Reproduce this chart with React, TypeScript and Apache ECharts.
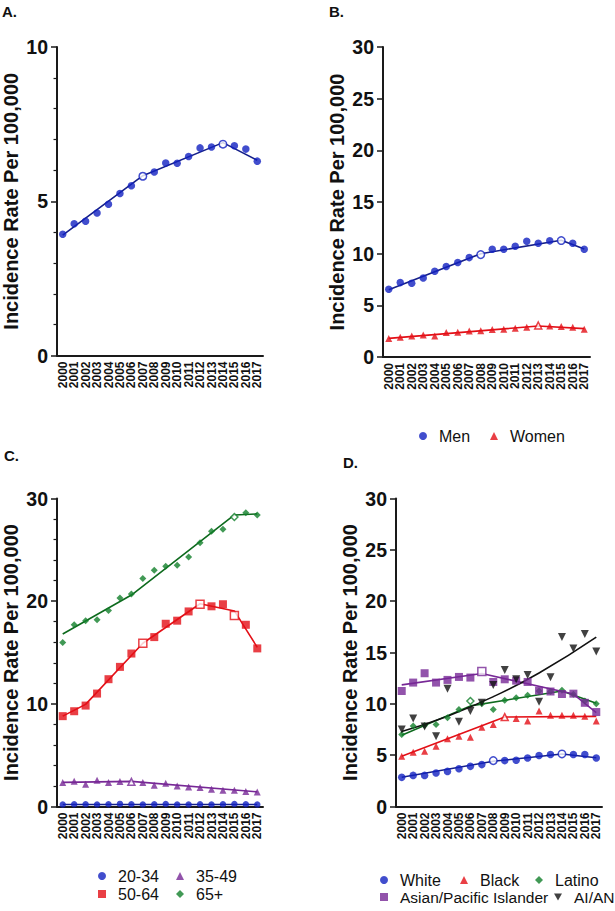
import React, { useEffect, useRef } from 'react';
import * as echarts from 'echarts';

const years = ['2000', '2001', '2002', '2003', '2004', '2005', '2006', '2007', '2008', '2009', '2010', '2011', '2012', '2013', '2014', '2015', '2016', '2017'];

// Panel A – overall
const aOverall = [3.93, 4.27, 4.35, 4.62, 4.9, 5.25, 5.5, 5.81, 5.95, 6.24, 6.23, 6.45, 6.73, 6.76, 6.85, 6.8, 6.69, 6.3];
const aOverallFit = [3.9, null, null, null, null, null, null, 5.83, null, null, null, null, null, null, 6.9, null, null, 6.33];
const aOverallOpen = ['2007', '2014'];

// Panel B – sex
const bMen = [6.56, 7.2, 7.14, 7.65, 8.3, 8.75, 9.14, 9.62, 9.91, 10.43, 10.43, 10.72, 11.2, 11.0, 11.24, 11.27, 11.0, 10.43];
const bMenFit = [6.5, null, null, null, null, null, null, null, 10.0, null, null, null, null, null, null, 11.3, null, 10.45];
const bMenOpen = ['2008', '2015'];
const bWomen = [1.8, 1.91, 2.03, 2.13, 2.03, 2.36, 2.39, 2.52, 2.55, 2.65, 2.68, 2.78, 2.88, 3.05, 3.0, 2.94, 2.88, 2.68];
const bWomenFit = [1.8, null, null, null, null, null, null, null, null, null, null, null, null, 3.0, null, null, null, 2.75];
const bWomenOpen = ['2013'];

// Panel C – age
const c2034 = [0.2, 0.22, 0.22, 0.2, 0.22, 0.25, 0.22, 0.2, 0.22, 0.24, 0.2, 0.2, 0.22, 0.2, 0.22, 0.24, 0.22, 0.2];
const c2034Fit = [0.2, null, null, null, null, null, null, null, null, null, null, null, null, null, null, null, null, 0.2];
const c3549 = [2.33, 2.46, 2.17, 2.55, 2.33, 2.43, 2.4, 2.33, 2.07, 2.27, 2.0, 1.9, 1.84, 1.68, 1.58, 1.58, 1.45, 1.42];
const c3549Fit = [2.35, null, null, null, null, null, 2.45, null, null, null, null, null, null, null, null, null, null, 1.42];
const c3549Open = ['2006'];
const c5064 = [8.8, 9.28, 9.83, 11.0, 12.4, 13.6, 14.9, 15.9, 16.5, 17.8, 18.1, 19.0, 19.7, 19.5, 19.7, 18.6, 17.7, 15.4];
const c5064Fit = [8.8, null, 9.95, null, null, null, null, 15.9, null, null, null, null, 19.75, null, null, 19.05, null, 15.5];
const c5064Open = ['2007', '2012', '2015'];
const c65 = [15.98, 17.7, 18.1, 18.2, 19.1, 20.3, 20.7, 22.2, 23.0, 23.4, 23.5, 24.3, 25.7, 26.8, 27.0, 28.2, 28.6, 28.4];
const c65Fit = [16.8, null, null, null, null, null, 20.6, null, null, null, null, null, null, null, null, 28.4, null, 28.5];
const c65Open = ['2015'];

// Panel D – race/ethnicity
const dWhite = [2.84, 3.03, 3.03, 3.26, 3.42, 3.68, 3.91, 4.08, 4.47, 4.47, 4.5, 4.73, 4.96, 5.06, 5.12, 5.06, 5.06, 4.73];
const dWhiteFit = [2.85, null, null, null, null, null, null, null, 4.4, null, null, null, null, null, 5.12, null, null, 4.75];
const dWhiteOpen = ['2008', '2014'];
const dBlack = [4.89, 5.28, 5.38, 5.87, 6.59, 6.85, 6.75, 7.73, 7.99, 8.71, 8.58, 8.32, 9.3, 8.9, 8.9, 8.9, 8.8, 8.32];
const dBlackFit = [4.9, null, null, null, null, null, null, null, null, 8.72, null, null, null, null, null, null, null, 8.78];
const dBlackOpen = ['2009'];
const dLatino = [7.01, 7.83, 7.9, 7.99, 8.64, 9.46, 10.27, 10.0, 9.46, 10.34, 10.6, 10.83, 11.25, 11.2, 11.32, 10.93, 10.27, 10.0];
const dLatinoFit = [6.95, null, null, null, null, null, 9.8, null, null, null, null, null, null, null, 11.25, null, null, 10.05];
const dLatinoOpen = ['2006'];
const dAsian = [11.25, 12.07, 12.98, 12.07, 12.33, 12.62, 12.56, 13.14, 12.13, 12.39, 12.26, 12.13, 11.28, 11.2, 10.96, 10.99, 10.1, 9.2];
const dAsianFit = [11.85, null, null, null, null, null, null, 12.95, null, null, null, null, null, null, null, 10.95, null, 9.15];
const dAsianOpen = ['2007'];
const dAian = [7.5, 8.58, 7.8, 6.85, 11.48, 8.25, 9.3, 10.1, 11.84, 13.3, 12.4, 12.8, 10.2, 12.6, 16.5, 15.4, 16.8, 15.1];
const dAianFit = [7.3, null, null, null, 8.8, null, null, null, 10.7, null, null, null, 13.0, null, null, null, null, 16.5];
const dAianOpen: string[] = [];

const BLUE = '#1220c0';
const BLUE_LINE = '#16208a';
const RED = '#e30f16';
const GREEN = '#12802a';
const GREEN_LINE = '#0d6a1d';
const PURPLE = '#772896';
const BLACK = '#111111';
const INV_TRI = 'path://M0,0L10,0L5,9Z';
const FONT = 'Liberation Sans, Arial, Helvetica, sans-serif';

const grids = [
  { left: 57, top: 47, width: 206, height: 308.5 },
  { left: 383, top: 47, width: 207, height: 310 },
  { left: 57, top: 498.5, width: 206, height: 308 },
  { left: 396, top: 498.5, width: 206, height: 308 },
];

function mkX(gridIndex: number) {
  return {
    type: 'category',
    gridIndex,
    data: years,
    boundaryGap: true,
    axisLine: { lineStyle: { color: '#1a1a1a', width: 2 } },
    axisTick: { alignWithLabel: true, length: 5, lineStyle: { color: '#1a1a1a', width: 1.5 } },
    axisLabel: { rotate: 90, interval: 0, fontSize: 12, fontWeight: 'bold', color: '#111', margin: 6, fontFamily: FONT },
    splitLine: { show: false },
  };
}

function mkY(gridIndex: number, max: number, interval: number, minor: boolean) {
  return {
    type: 'value',
    gridIndex,
    min: 0,
    max,
    interval,
    name: 'Incidence Rate Per 100,000',
    nameLocation: 'middle',
    nameGap: 36,
    nameTextStyle: { fontSize: 20, fontWeight: 'bold', color: '#111', fontFamily: FONT },
    axisLine: { show: true, lineStyle: { color: '#1a1a1a', width: 2 } },
    axisTick: { show: true, length: 6, lineStyle: { color: '#1a1a1a', width: 1.5 } },
    minorTick: { show: minor, splitNumber: 5, length: 3.5, lineStyle: { color: '#1a1a1a', width: 1.2 } },
    axisLabel: { fontSize: 19.5, fontWeight: 'bold', color: '#111', margin: 9, fontFamily: FONT },
    splitLine: { show: false },
    minorSplitLine: { show: false },
  };
}

function pts(name: string, vals: number[], open: string[], color: string, symbol: string, size: number, idx: number) {
  return {
    name,
    type: 'scatter',
    xAxisIndex: idx,
    yAxisIndex: idx,
    symbol,
    symbolSize: size,
    z: 4,
    itemStyle: { color },
    data: vals.map((v, i) =>
      open.includes(years[i])
        ? { value: v, itemStyle: { color: '#ffffff', borderColor: color, borderWidth: 1.5 } }
        : v
    ),
  };
}

function fit(name: string, vals: (number | null)[], color: string, idx: number, smooth = false) {
  return {
    name: name + ' fit',
    type: 'line',
    xAxisIndex: idx,
    yAxisIndex: idx,
    data: vals,
    connectNulls: true,
    smooth,
    symbol: 'none',
    z: 2,
    lineStyle: { color, width: 1.6 },
    itemStyle: { color },
  };
}

function leg(name: string, icon: string, left: number, cy: number, fontSize = 16) {
  return {
    data: [{ name, icon }],
    left,
    top: cy - 9,
    itemWidth: 8,
    itemHeight: 8,
    padding: 0,
    selectedMode: false,
    textStyle: { fontSize, color: '#111', fontFamily: FONT, padding: [0, 0, 0, 7] },
  };
}

function panelLabel(text: string, x: number, y: number) {
  return {
    type: 'text',
    left: x,
    top: y,
    style: { text, fontSize: 15, fontWeight: 'bold', fill: '#111', fontFamily: FONT },
  };
}

export default function App() {
  const ref = useRef<HTMLDivElement>(null);
  useEffect(() => {
    if (!ref.current) return;
    const chart = echarts.init(ref.current, null, { renderer: 'svg' });
    chart.setOption({
      animation: false,
      backgroundColor: '#ffffff',
      grid: grids,
      xAxis: [mkX(0), mkX(1), mkX(2), mkX(3)],
      yAxis: [mkY(0, 10, 5, true), mkY(1, 30, 5, false), mkY(2, 30, 10, true), mkY(3, 30, 5, false)],
      legend: [
        leg('Men', 'circle', 419, 437),
        leg('Women', 'triangle', 490, 437),
        leg('20-34', 'circle', 98, 877),
        leg('35-49', 'triangle', 176, 877),
        leg('50-64', 'rect', 98, 895),
        leg('65+', 'diamond', 176, 895),
        leg('White', 'circle', 380, 881),
        leg('Black', 'triangle', 460, 881),
        leg('Latino', 'diamond', 535, 881),
        leg('Asian/Pacific Islander', 'rect', 380, 898, 15.5),
        leg('AI/AN', INV_TRI, 554, 898, 15.5),
      ],
      graphic: [
        panelLabel('A.', 2, 4),
        panelLabel('B.', 329, 4),
        panelLabel('C.', 4, 448),
        panelLabel('D.', 343, 455),
      ],
      series: [
        fit('Overall', aOverallFit, BLUE_LINE, 0),
        pts('Overall', aOverall, aOverallOpen, BLUE, 'circle', 7.5, 0),

        fit('Men', bMenFit, BLUE_LINE, 1),
        fit('Women', bWomenFit, RED, 1),
        pts('Men', bMen, bMenOpen, BLUE, 'circle', 7.5, 1),
        pts('Women', bWomen, bWomenOpen, RED, 'triangle', 7, 1),

        fit('20-34', c2034Fit, BLUE_LINE, 2),
        fit('35-49', c3549Fit, PURPLE, 2),
        fit('50-64', c5064Fit, RED, 2),
        fit('65+', c65Fit, GREEN_LINE, 2),
        pts('20-34', c2034, [], BLUE, 'circle', 6.5, 2),
        pts('35-49', c3549, c3549Open, PURPLE, 'triangle', 7, 2),
        pts('50-64', c5064, c5064Open, RED, 'rect', 8, 2),
        pts('65+', c65, c65Open, GREEN, 'diamond', 7, 2),

        fit('White', dWhiteFit, BLUE_LINE, 3),
        fit('Black', dBlackFit, RED, 3),
        fit('Latino', dLatinoFit, GREEN_LINE, 3),
        fit('Asian/Pacific Islander', dAsianFit, PURPLE, 3),
        fit('AI/AN', dAianFit, BLACK, 3, true),
        pts('White', dWhite, dWhiteOpen, BLUE, 'circle', 7.5, 3),
        pts('Black', dBlack, dBlackOpen, RED, 'triangle', 7, 3),
        pts('Latino', dLatino, dLatinoOpen, GREEN, 'diamond', 7, 3),
        pts('Asian/Pacific Islander', dAsian, dAsianOpen, PURPLE, 'rect', 8, 3),
        pts('AI/AN', dAian, dAianOpen, BLACK, INV_TRI, 8, 3),
      ],
    });
    return () => chart.dispose();
  }, []);
  return <div ref={ref} style={{ position: 'absolute', left: 0, top: 0, width: 615, height: 911 }} />;
}
